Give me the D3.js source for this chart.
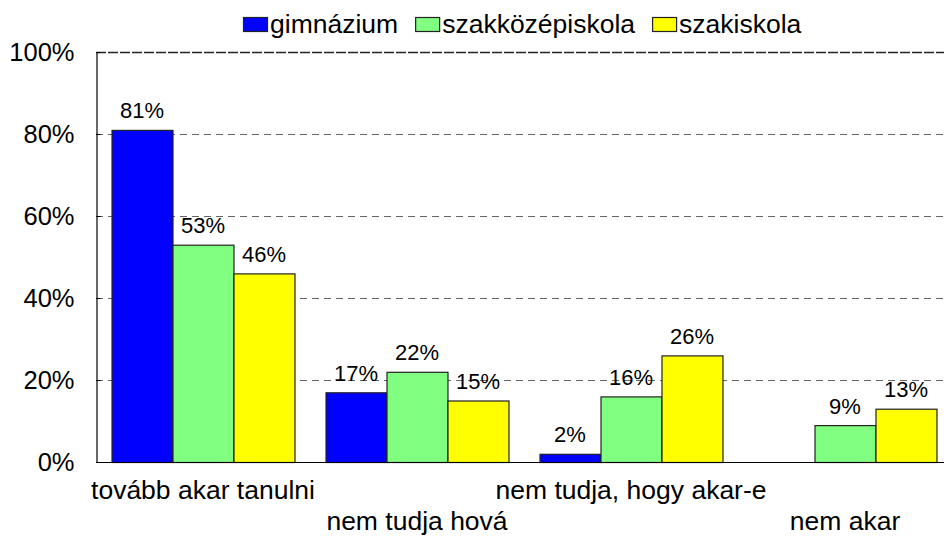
<!DOCTYPE html>
<html>
<head>
<meta charset="utf-8">
<script src="https://cdn.jsdelivr.net/npm/d3@7"></script>
<style>
  html, body { margin: 0; padding: 0; background: #fff; }
  svg { display: block; font-family: "Liberation Sans", Arial, sans-serif; }
</style>
</head>
<body>
<svg id="chart" width="944" height="536"></svg>
<script>
// Továbbtanulási szándék iskolatípus szerint (%)
const categories = ["tovább akar tanulni", "nem tudja hová", "nem tudja, hogy akar-e", "nem akar"];
const seriesNames = ["gimnázium", "szakközépiskola", "szakiskola"];
const gimnazium = [81, 17, 2, null];
const szakkozep = [53, 22, 16, 9];
const szakiskola = [46, 15, 26, 13];
const yTicks = [0, 20, 40, 60, 80, 100];
const colors = ["#0000ff", "#80ff80", "#ffff00"];

const seriesValues = [gimnazium, szakkozep, szakiskola];

const svg = d3.select("#chart");
const plot = { left: 96, right: 952, top: 52, bottom: 462 };

const x = d3.scaleBand()
  .domain(categories)
  .range([plot.left, plot.right])
  .paddingInner(0.145)
  .paddingOuter(0.0725);

const xs = d3.scaleBand()
  .domain(seriesNames)
  .range([0, x.bandwidth()]);

const y = d3.scaleLinear()
  .domain([0, 100])
  .range([plot.bottom, plot.top]);

// Gridlines
svg.append("g")
  .selectAll("line")
  .data(yTicks.filter(t => t > 0))
  .join("line")
  .attr("x1", plot.left)
  .attr("x2", 944)
  .attr("y1", d => Math.round(y(d)) + 0.5)
  .attr("y2", d => Math.round(y(d)) + 0.5)
  .attr("stroke", d => d === 100 ? "#222" : "#666")
  .attr("stroke-width", d => d === 100 ? 1.6 : 1)
  .attr("stroke-dasharray", d => d === 100 ? "10,2" : "7,5");

// Bars
const rows = [];
categories.forEach((c, i) => {
  seriesNames.forEach((s, j) => {
    const v = seriesValues[j][i];
    if (v != null) rows.push({ c, s, v, j });
  });
});

svg.append("g")
  .selectAll("rect")
  .data(rows)
  .join("rect")
  .attr("x", d => x(d.c) + xs(d.s) + 0.5)
  .attr("y", d => y(d.v) + 0.5)
  .attr("width", xs.bandwidth())
  .attr("height", d => y(0) - y(d.v))
  .attr("fill", d => colors[d.j])
  .attr("stroke", "#222")
  .attr("stroke-width", 1.2);

// Value labels
svg.append("g")
  .selectAll("text")
  .data(rows)
  .join("text")
  .attr("x", d => x(d.c) + xs(d.s) + xs.bandwidth() / 2)
  .attr("y", d => y(d.v) - 11.5)
  .attr("text-anchor", "middle")
  .attr("font-size", 22)
  .attr("fill", "#000")
  .text(d => d.v + "%");

// Y axis
const yAxis = d3.axisLeft(y)
  .tickValues(yTicks)
  .tickFormat(d => d + "%")
  .tickSizeInner(-4)
  .tickSizeOuter(0)
  .tickPadding(22);

const gy = svg.append("g")
  .attr("transform", `translate(${plot.left + 0.5},0)`)
  .call(yAxis);
gy.select(".domain").attr("stroke", "#000").attr("stroke-width", 1.2);
gy.selectAll(".tick line").attr("stroke", "#000");
gy.selectAll(".tick text")
  .attr("font-size", 25.5)
  .attr("font-family", "Liberation Sans, Arial, sans-serif")
  .attr("fill", "#000");

// X axis baseline
svg.append("line")
  .attr("x1", plot.left)
  .attr("x2", 944)
  .attr("y1", plot.bottom + 0.5)
  .attr("y2", plot.bottom + 0.5)
  .attr("stroke", "#000")
  .attr("stroke-width", 1.2);

// Category labels, staggered on two rows
svg.append("g")
  .selectAll("text")
  .data(categories)
  .join("text")
  .attr("x", d => x(d) + x.bandwidth() / 2)
  .attr("y", (d, i) => i % 2 === 0 ? 499 : 530)
  .attr("text-anchor", "middle")
  .attr("font-size", 26.5)
  .attr("fill", "#000")
  .text(d => d);

// Legend
const legend = svg.append("g");
let lx = 243;
seriesNames.forEach((name, j) => {
  legend.append("rect")
    .attr("x", lx + 0.5)
    .attr("y", 17.5)
    .attr("width", 24)
    .attr("height", 14)
    .attr("fill", colors[j])
    .attr("stroke", "#222")
    .attr("stroke-width", 1.2);
  const t = legend.append("text")
    .attr("x", lx + 27)
    .attr("y", 33)
    .attr("font-size", 26.5)
    .attr("fill", "#000")
    .text(name);
  lx = lx + 27 + t.node().getComputedTextLength() + 17;
});
</script>
</body>
</html>
